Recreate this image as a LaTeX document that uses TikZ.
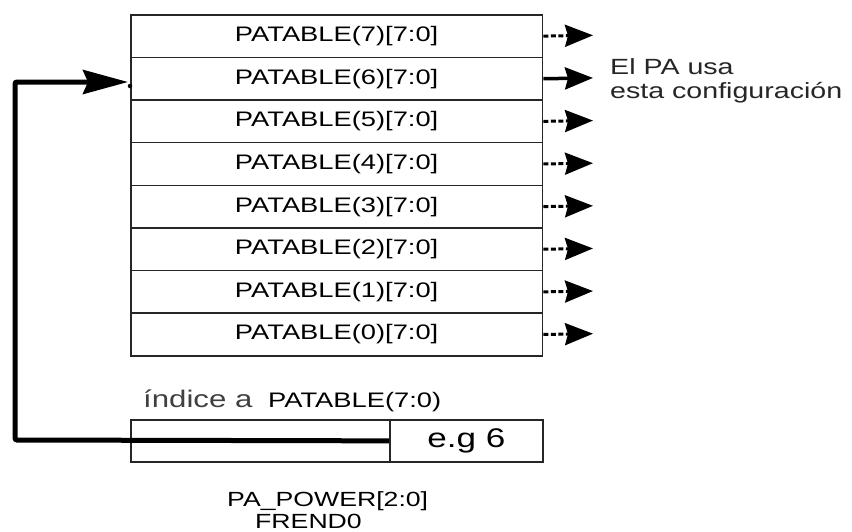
\documentclass[tikz,border=0pt]{standalone}
\usepackage{fontspec}
\setmainfont{Liberation Sans}[FakeStretch=1.3]
\usetikzlibrary{arrows.meta}
\begin{document}
\begin{tikzpicture}[x=1pt,y=-1pt,
  rowbox/.style={draw=black!85, line width=1.6pt, minimum width=411.7pt,
    minimum height=42.625pt, inner sep=0pt, anchor=north west,
    font=\fontsize{21}{24}\selectfont},
  cellbox/.style={draw=black!85, line width=1.7pt, minimum height=42pt,
    inner sep=0pt, anchor=north west},
  dasharrow/.style={line width=3pt, dash pattern=on 5pt off 2.5pt,
    -{Stealth[length=28pt,width=22pt,inset=3pt]}},
  solidarrow/.style={line width=3.5pt,
    -{Stealth[length=28pt,width=22pt,inset=3pt]}},
  feed/.style={line width=5pt, rounded corners=2pt,
    -{Stealth[length=45pt,width=24pt,inset=5pt]}},
  lbl/.style={inner sep=0pt, anchor=base west}
]
\useasboundingbox (0,0) rectangle (852,531);

% table rows
\foreach \i in {7,...,0}{
  \node[rowbox] (r\i) at (130,{14+(7-\i)*42.625}) {PATABLE(\i)[7:0]};
}

% output arrows
\foreach \i in {7,5,4,3,2,1,0}{
  \coordinate (o\i) at (593,{14+(7-\i+0.5)*42.625});
  \draw[dasharrow] (r\i.east) -- (o\i);
}
\coordinate (o6) at (593,{14+1.5*42.625});
\draw[solidarrow] (r6.east) -- (o6);

\node[lbl, anchor=north west, align=left, text=black!85,
  font=\fontsize{22}{24}\selectfont] (pa) at (610,58)
  {El PA usa\\esta configuración};

% index register
\node[cellbox, minimum width=259pt] (idx) at (130,419) {};
\node[cellbox, minimum width=153pt, font=\fontsize{27}{30}\selectfont] (val) at (389,419) {e.g 6};

\node[lbl, text=black!75, font=\fontsize{24}{28}\selectfont] (ind) at (143,407) {índice a};
\node[lbl, font=\fontsize{21}{24}\selectfont] (pt) at (268,407) {PATABLE(7:0)};

\node[lbl, font=\fontsize{20.5}{24}\selectfont] (pw) at (227,506) {PA\_POWER[2:0]};
\node[lbl, font=\fontsize{20.5}{24}\selectfont] (fr) at (255,528) {FREND0};

% feedback connector
\coordinate (fc) at (15,440);
\coordinate (tip6) at (128,82);
\draw[feed] (val.west) -- (fc) |- (tip6);
\node[circle, fill, inner sep=0pt, minimum size=4.5pt] (dot) at (130,86) {};
\end{tikzpicture}
\end{document}
